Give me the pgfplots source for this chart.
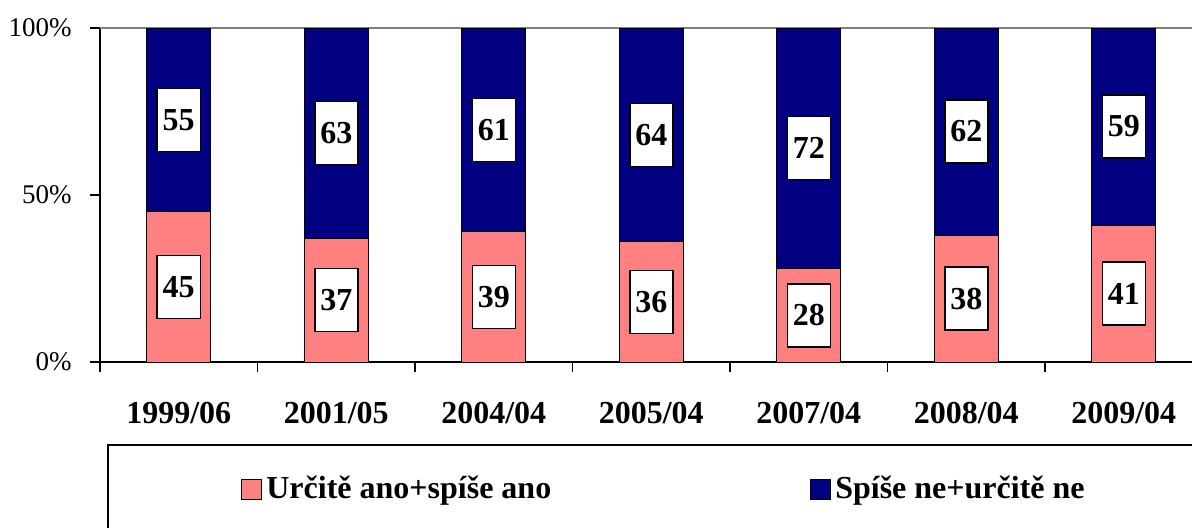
\documentclass[border=0pt]{standalone}
\usepackage{pgfplots}
\usepackage{pgfplotstable}
\pgfplotsset{compat=1.18}
\usepackage{fontspec}
\setmainfont{Liberation Serif}
\definecolor{cred}{HTML}{FF8080}
\definecolor{cblue}{HTML}{000080}

\pgfplotstableread{
x a b
0 45 55
1 37 63
2 39 61
3 36 64
4 28 72
5 38 62
6 41 59
}\data

\begin{document}
\begin{tikzpicture}
\begin{axis}[
  at={(0pt,0pt)}, anchor=south west,
  scale only axis, width=546pt, height=167pt,
  xmin=-0.5, xmax=6.4333, ymin=0, ymax=100,
  ybar stacked, bar width=32pt,
  axis lines=left,
  axis line style={black, line width=0.75pt, -},
  tick align=outside,
  major tick length=5pt,
  tick style={black, line width=0.75pt},
  xtick={-0.5,0.5,...,6.5},
  xticklabels={},
  extra x ticks={0,1,2,3,4,5,6},
  extra x tick labels={1999/06,2001/05,2004/04,2005/04,2007/04,2008/04,2009/04},
  extra x tick style={major tick length=0pt},
  xticklabel style={inner sep=0pt, anchor=north, yshift=-20pt, font=\bfseries\fontsize{16}{18}\selectfont},
  ytick={0,50,100},
  yticklabels={0\%,50\%,100\%},
  yticklabel style={inner sep=0pt, xshift=-9pt, font=\fontsize{13.5}{15}\selectfont},
  extra y ticks={100},
  extra y tick labels={},
  extra y tick style={grid=major, major grid style={gray, line width=0.75pt}, major tick length=0pt},
  legend columns=2,
  legend style={draw=none, fill=none, at={(0.1291,-0.3802)}, anchor=west, inner sep=0pt,
    font=\bfseries\fontsize{16}{18}\selectfont,
    /tikz/every even column/.append style={column sep=127.5pt}},
  legend image code/.code={\draw[#1, draw=black, line width=0.5pt] (0pt,-5pt) rectangle (10pt,5pt);},
  nodes near coords={\pgfmathprintnumber[assume math mode=true]{\pgfplotspointmeta}},
  point meta=explicit,
  every node near coord/.append style={draw=black, line width=0.75pt, fill=white,
    minimum width=21.5pt, minimum height=31.5pt, inner sep=0pt, anchor=center,
    font=\bfseries\fontsize{16}{18}\selectfont},
]
\addplot[fill=cred, draw=black, line width=0.5pt]
  table[x=x, y=a, meta=a] {\data};
\addlegendentry{Určitě ano+spíše ano}
\addplot[fill=cblue, draw=black, line width=0.5pt]
  table[x=x, y=b, meta=b] {\data};
\addlegendentry{Spíše ne+určitě ne}
\end{axis}
\draw[black, line width=0.75pt] (4pt,-100pt) -- (4pt,-41.5pt) -- (600pt,-41.5pt);
\pgfresetboundingbox
\useasboundingbox (-50pt,-82.5pt) rectangle (546pt,181pt);
\end{tikzpicture}
\end{document}
